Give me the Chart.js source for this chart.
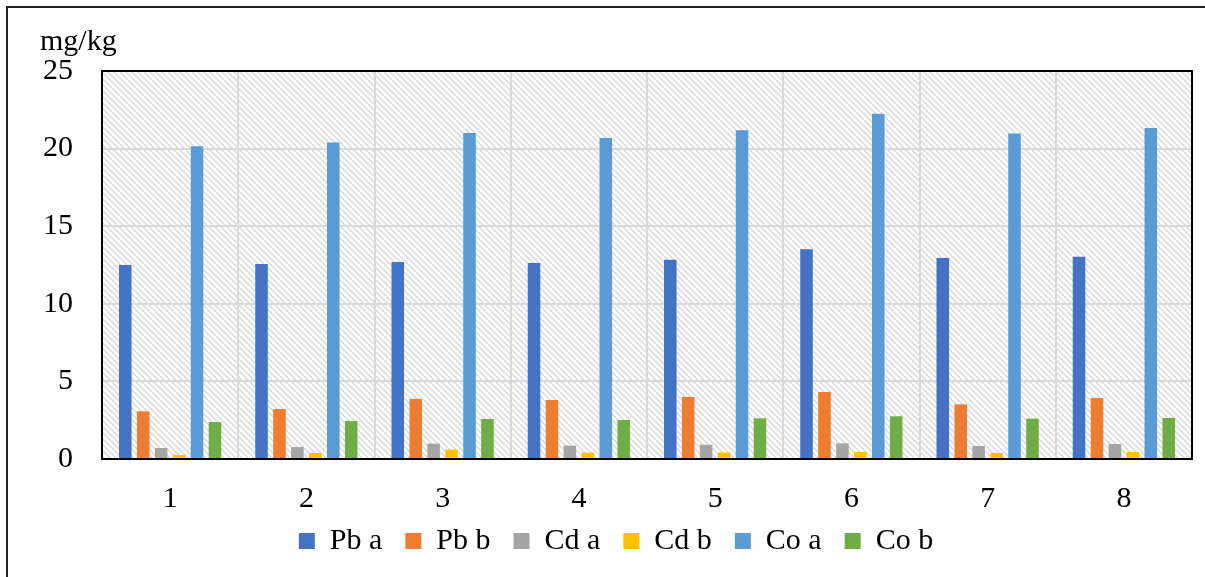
<!DOCTYPE html>
<html>
<head>
<meta charset="utf-8">
<script src="https://cdn.jsdelivr.net/npm/chart.js@4/dist/chart.umd.min.js"></script>
<style>
  html, body { margin: 0; padding: 0; background: #fff; }
  #wrap { width: 1205px; height: 577px; position: relative; }
</style>
</head>
<body>
<div id="wrap"><canvas id="grafico"></canvas></div>
<script>
const categorias = ['1', '2', '3', '4', '5', '6', '7', '8'];
const pbA = [12.5, 12.56, 12.69, 12.63, 12.84, 13.51, 12.95, 13.03];
const pbB = [3.07, 3.22, 3.87, 3.8, 4.0, 4.32, 3.52, 3.93];
const cdA = [0.71, 0.77, 0.99, 0.86, 0.92, 1.01, 0.84, 0.97];
const cdB = [0.26, 0.39, 0.6, 0.41, 0.42, 0.45, 0.39, 0.45];
const coA = [20.15, 20.4, 21.0, 20.68, 21.18, 22.25, 20.98, 21.33];
const coB = [2.38, 2.45, 2.58, 2.51, 2.62, 2.75, 2.6, 2.64];
const yTicks = [0, 5, 10, 15, 20, 25];

const fonte = "'Liberation Serif', 'Times New Roman', serif";
const subirLegenda = 16;

// fundo hachurado da area do grafico
function criarHachura() {
    const c = document.createElement('canvas');
    c.width = 6; c.height = 6;
    const g = c.getContext('2d');
    g.fillStyle = '#fff';
    g.fillRect(0, 0, 6, 6);
    g.strokeStyle = '#d6d6d6';
    g.lineWidth = 1.3;
    g.beginPath();
    g.moveTo(-1, -1); g.lineTo(7, 7);
    g.moveTo(-4, 2); g.lineTo(4, 10);
    g.moveTo(2, -4); g.lineTo(10, 4);
    g.stroke();
    return c;
}

const fundoPlugin = {
    id: 'fundo',
    beforeLayout(chart) {
        // legenda ocupa menos altura; sobe um pouco depois do layout
        const lg = chart.legend;
        if (lg && !lg._ajustada) {
            const fitOriginal = lg.fit.bind(lg);
            lg.fit = function() {
                fitOriginal();
                this.height -= subirLegenda;
            };
            lg._ajustada = true;
        }
    },
    afterLayout(chart) {
        const lg = chart.legend;
        if (lg) {
            lg.top -= subirLegenda;
            lg.bottom -= subirLegenda;
        }
    },
    beforeDraw(chart) {
        const ctx = chart.ctx;
        const a = chart.chartArea;
        ctx.save();
        ctx.fillStyle = '#fff';
        ctx.fillRect(0, 0, chart.width, chart.height);
        // moldura externa (cortada a direita e embaixo)
        ctx.strokeStyle = '#222';
        ctx.lineWidth = 2;
        ctx.beginPath();
        ctx.moveTo(7, chart.height);
        ctx.lineTo(7, 7);
        ctx.lineTo(chart.width, 7);
        ctx.stroke();
        ctx.fillStyle = ctx.createPattern(criarHachura(), 'repeat');
        ctx.fillRect(a.left, a.top, a.right - a.left, a.bottom - a.top);
        ctx.restore();
    },
    afterDatasetsDraw(chart) {
        const ctx = chart.ctx;
        const a = chart.chartArea;
        ctx.save();
        ctx.strokeStyle = '#000';
        ctx.lineWidth = 2;
        ctx.strokeRect(a.left, a.top, a.right - a.left, a.bottom - a.top);
        ctx.restore();
    }
};

function serie(label, data, cor) {
    return {
        label: label,
        data: data,
        backgroundColor: cor,
        borderWidth: 0,
        categoryPercentage: 0.79,
        barPercentage: 0.7
    };
}

new Chart(document.getElementById('grafico'), {
    type: 'bar',
    data: {
        labels: categorias,
        datasets: [
            serie('Pb a', pbA, '#4472C4'),
            serie('Pb b', pbB, '#ED7D31'),
            serie('Cd a', cdA, '#A5A5A5'),
            serie('Cd b', cdB, '#FFC000'),
            serie('Co a', coA, '#5B9BD5'),
            serie('Co b', coB, '#70AD47')
        ]
    },
    options: {
        responsive: true,
        maintainAspectRatio: false,
        animation: false,
        layout: { padding: { left: 40, right: 13, top: 0, bottom: 11 } },
        scales: {
            x: {
                grid: { color: '#d9d9d9', lineWidth: 2, drawTicks: false, offset: true },
                border: { display: false },
                ticks: { color: '#000', padding: 22, font: { family: fonte, size: 30 } },
                afterFit(scale) { scale.height = 60; }
            },
            y: {
                min: 0,
                max: 25,
                afterBuildTicks(scale) { scale.ticks = yTicks.map(v => ({ value: v })); },
                grid: { color: '#d9d9d9', lineWidth: 2, drawTicks: false },
                border: { display: false },
                ticks: { color: '#000', padding: 29, font: { family: fonte, size: 30 } },
                afterFit(scale) { scale.width = 62; }
            }
        },
        plugins: {
            title: {
                display: true,
                text: 'mg/kg',
                align: 'start',
                color: '#000',
                font: { family: fonte, size: 30, weight: 'normal' },
                padding: { top: 24, bottom: 11 }
            },
            legend: {
                position: 'bottom',
                labels: {
                    color: '#000',
                    boxWidth: 16,
                    boxHeight: 16,
                    padding: 23,
                    font: { family: fonte, size: 30 }
                }
            },
            tooltip: { enabled: false }
        }
    },
    plugins: [fundoPlugin]
});
</script>
</body>
</html>
